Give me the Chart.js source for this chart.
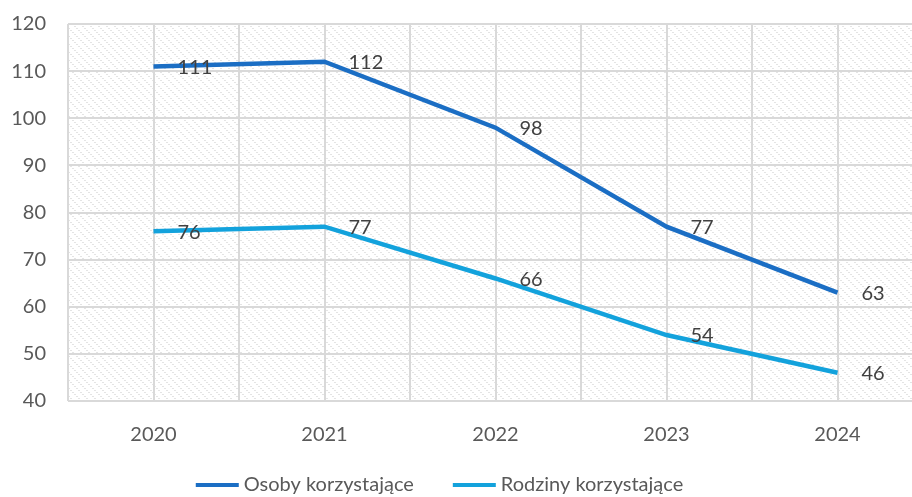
<!DOCTYPE html>
<html>
  <head>
    <script src="https://cdn.jsdelivr.net/npm/chart.js@4/dist/chart.umd.min.js"></script>
    <style>
      html, body { margin: 0; padding: 0; background: #fff; overflow: hidden; }
      #wrap { width: 912px; height: 497px; overflow: hidden; }
    </style>
  </head>

  <body>
    <div id="wrap">
      <canvas id="canvas" width="923" height="497"></canvas>
    </div>
    <script>
      const years = ['2020', '2021', '2022', '2023', '2024'];
      const osoby = [111, 112, 98, 77, 63];
      const rodziny = [76, 77, 66, 54, 46];
      const seriesNames = ['Osoby korzystające', 'Rodziny korzystające'];
      const yMin = 40, yMax = 120, yStep = 10;

      const FONT = 'Lato';
      const TEXT = '#595959';
      const GRID = '#d9d9d9';

      // light dotted diagonal hatch like the Excel plot area fill
      function makeHatch(ctx) {
        const c = document.createElement('canvas');
        c.width = 8; c.height = 8;
        const g = c.getContext('2d');
        g.fillStyle = '#ffffff';
        g.fillRect(0, 0, 8, 8);
        g.fillStyle = '#e4e4e4';
        for (let i = 0; i < 8; i += 2) {
          g.fillRect(i, i, 1, 1);
          g.fillRect((i + 1) % 8, i, 1, 1);
        }
        return ctx.createPattern(c, 'repeat');
      }

      const hatchPlugin = {
        id: 'hatch',
        beforeDraw(chart) {
          const { ctx, chartArea: a } = chart;
          ctx.save();
          ctx.fillStyle = makeHatch(ctx);
          ctx.fillRect(a.left, a.top, a.right - a.left, a.bottom - a.top);
          ctx.restore();
        }
      };

      const labelPlugin = {
        id: 'valueLabels',
        afterDatasetsDraw(chart) {
          const ctx = chart.ctx;
          ctx.save();
          ctx.font = '20px ' + FONT;
          ctx.fillStyle = '#404040';
          ctx.textAlign = 'left';
          ctx.textBaseline = 'middle';
          chart.data.datasets.forEach((ds, i) => {
            chart.getDatasetMeta(i).data.forEach((pt, j) => {
              ctx.fillText(String(ds.data[j].y), pt.x + 24, pt.y + 1);
            });
          });
          ctx.restore();
        }
      };

      const legendPlugin = {
        id: 'bottomLegend',
        afterDraw(chart) {
          const ctx = chart.ctx;
          ctx.save();
          ctx.font = '20px ' + FONT;
          ctx.textBaseline = 'middle';
          ctx.textAlign = 'left';
          const lineLen = 43, gapText = 5, gapItem = 39;
          const items = chart.data.datasets.map((ds) => ({
            label: ds.label, color: ds.borderColor, w: ctx.measureText(ds.label).width
          }));
          let total = 0;
          items.forEach((it, k) => { total += lineLen + gapText + it.w + (k ? gapItem : 0); });
          let x = 439.5 - total / 2;
          const y = 485;
          items.forEach((it) => {
            ctx.fillStyle = it.color;
            ctx.fillRect(x, y - 2, lineLen, 4);
            ctx.fillStyle = TEXT;
            ctx.fillText(it.label, x + lineLen + gapText, y);
            x += lineLen + gapText + it.w + gapItem;
          });
          ctx.restore();
        }
      };

      new Chart(document.getElementById('canvas').getContext('2d'), {
        type: 'line',
        data: {
          datasets: [
            {
              label: seriesNames[0],
              data: osoby.map((v, i) => ({ x: i, y: v })),
              borderColor: '#1b6ec4',
              backgroundColor: '#1b6ec4',
              borderWidth: 4.5,
              pointRadius: 0,
              tension: 0,
            },
            {
              label: seriesNames[1],
              data: rodziny.map((v, i) => ({ x: i, y: v })),
              borderColor: '#13a2dc',
              backgroundColor: '#13a2dc',
              borderWidth: 4.5,
              pointRadius: 0,
              tension: 0,
            },
          ],
        },
        options: {
          responsive: false,
          animation: false,
          layout: { padding: { left: 11, top: 24, right: 0, bottom: 46 } },
          plugins: {
            legend: { display: false },
            tooltip: { enabled: false },
          },
          scales: {
            x: {
              type: 'linear',
              min: -0.5,
              max: 4.5,
              border: { display: false },
              grid: { color: GRID, lineWidth: 2, drawTicks: false },
              afterFit: (s) => { s.height = 50; s.paddingLeft = 0; s.paddingRight = 0; },
              ticks: {
                stepSize: 0.5,
                autoSkip: false,
                maxRotation: 0,
                padding: 22,
                color: TEXT,
                font: { family: FONT, size: 20 },
                callback: (v) => (Number.isInteger(v) && years[v] ? years[v] : ''),
              },
            },
            y: {
              min: yMin,
              max: yMax,
              border: { display: false },
              grid: { color: GRID, lineWidth: 2, drawTicks: false },
              afterFit: (s) => { s.width = 57; s.paddingTop = 0; s.paddingBottom = 0; },
              ticks: {
                stepSize: yStep,
                padding: 22,
                color: TEXT,
                font: { family: FONT, size: 20 },
              },
            },
          },
        },
        plugins: [hatchPlugin, labelPlugin, legendPlugin],
      });
    </script>
  </body>
</html>
